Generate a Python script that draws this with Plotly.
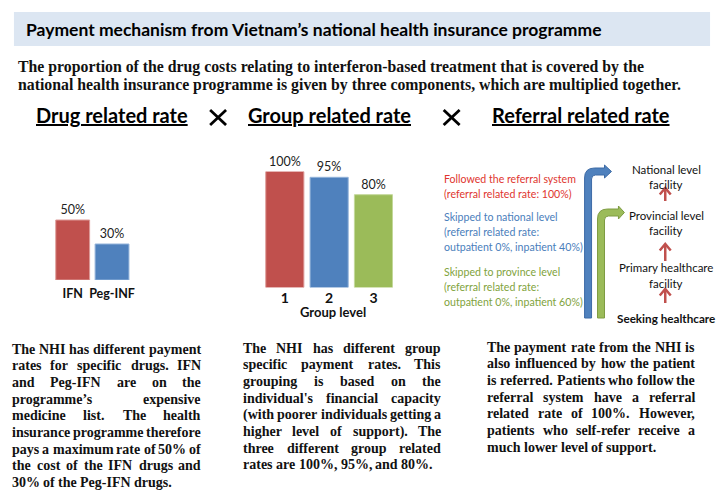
import plotly.graph_objects as go

W, H = 728, 503

# ---------------- data ----------------
title_text = "Payment mechanism from Vietnam\u2019s national health insurance programme"
subtitle_lines = [
    "The proportion of the drug costs relating to interferon-based treatment that is covered by the",
    "national health insurance programme is given by three components, which are multiplied together.",
]
section_titles = ["Drug related rate", "Group related rate", "Referral related rate"]

drug_categories = ["IFN", "Peg-INF"]
drug_rates = [50, 30]
drug_labels = ["50%", "30%"]

group_levels = ["1", "2", "3"]
group_rates = [100, 95, 80]
group_labels = ["100%", "95%", "80%"]
group_axis_title = "Group level"

referral_red = ["Followed the referral system", "(referral related rate: 100%)"]
referral_blue = ["Skipped to national level", "(referral related rate:", "outpatient 0%, inpatient 40%)"]
referral_green = ["Skipped to province level", "(referral related rate:", "outpatient 0%, inpatient 60%)"]
facility_labels = ["National level", "facility", "Provincial level", "facility",
                   "Primary healthcare", "facility"]
seeking_label = "Seeking healthcare"

para1 = ["The NHI has different payment",
         "rates for specific drugs. IFN",
         "and Peg-IFN are on the",
         "programme\u2019s expensive",
         "medicine list. The health",
         "insurance programme therefore",
         "pays a maximum rate of 50% of",
         "the cost of the IFN drugs and",
         "30% of the Peg-IFN drugs."]
para2 = ["The NHI has different group",
         "specific payment rates. This",
         "grouping is based on the",
         "individual's financial capacity",
         "(with poorer individuals getting a",
         "higher level of support). The",
         "three different group related",
         "rates are 100%, 95%, and 80%."]
para3 = ["The payment rate from the NHI is",
         "also influenced by how the patient",
         "is referred. Patients who follow the",
         "referral system have a referral",
         "related rate of 100%. However,",
         "patients who self-refer receive a",
         "much lower level of support."]

# ---------------- styles ----------------
RED, BLUE, GREEN = "#c0504d", "#4f81bd", "#9bbb59"
SANS = "Lato"
SERIF = "Liberation Serif"


def px(x):
    return x / W


def py(y):
    return 1 - y / H


# Times-Bold advance widths (per 1000 em) for justification
TB = {' ': 250, '!': 333, "'": 278, '\u2019': 333, '(': 333, ')': 333, ',': 250, '-': 333,
      '.': 250, '%': 1000, ':': 333}
for c in "0123456789":
    TB[c] = 500
TB.update(dict(zip("abcdefghijklmnopqrstuvwxyz",
                   [500, 556, 444, 556, 444, 333, 500, 556, 278, 333, 556, 278, 833, 556, 500,
                    556, 556, 444, 389, 333, 556, 500, 722, 500, 500, 444])))
TB.update(dict(zip("ABCDEFGHIJKLMNOPQRSTUVWXYZ",
                   [722, 667, 722, 722, 667, 611, 778, 778, 389, 500, 778, 667, 944, 722, 778,
                    611, 778, 722, 556, 667, 722, 722, 1000, 722, 722, 667])))


def tw(s, size):
    return sum(TB.get(c, 500) for c in s) / 1000.0 * size


annotations = []
shapes = []


def ann(x, y, text, size, color="#000000", family=SANS, weight="normal", xanchor="left", **kw):
    d = dict(x=x, y=y, xref="x3", yref="y3", text=text, showarrow=False,
             xanchor=xanchor, yanchor="middle", borderpad=0, borderwidth=0,
             font=dict(family=family, size=size, color=color, weight=weight))
    d.update(kw)
    annotations.append(d)


def justified(lines, x0, x1, y0, step, size):
    for i, line in enumerate(lines):
        y = y0 + i * step
        words = line.split(" ")
        widths = [tw(w, size) for w in words]
        last = (i == len(lines) - 1)
        if last or len(words) == 1:
            gap = 0.25 * size
        else:
            gap = max((x1 - x0 - sum(widths)) / (len(words) - 1), 0.12 * size)
        x = x0
        for j, (w, wd) in enumerate(zip(words, widths)):
            if (not last) and j == len(words) - 1 and len(words) > 1:
                ann(x1, y, w, size, "#111111", SERIF, "bold", xanchor="right")
            else:
                ann(x, y, w, size, "#111111", SERIF, "bold")
            x += wd + gap


# ---------------- header ----------------
shapes.append(dict(type="rect", xref="x3", yref="y3", x0=14, x1=713, y0=12, y1=46,
                   fillcolor="#dce6f2", line=dict(width=0), layer="below"))
ann(26, 29.5, title_text, 17.5, "#000000", SANS, "bold")
for i, line in enumerate(subtitle_lines):
    ann(18, 66.5 + i * 18, line, 15.8, "#111111", SERIF, "bold")

# section titles
sec_x = [112, 331, 583]
for x, t in zip(sec_x, section_titles):
    ann(x, 115, "<u>" + t + "</u>", 20, "#000000", SANS, "bold", xanchor="center")
for cx in (219, 453.5):
    for (a, b) in ((-8, -7.5), (-8, 7.5)):
        shapes.append(dict(type="line", xref="x3", yref="y3", x0=cx + a, y0=117.5 + b,
                           x1=cx - a, y1=117.5 - b, line=dict(color="#000000", width=2.8)))

# ---------------- bars ----------------
fig = go.Figure()
fig.add_trace(go.Bar(
    x=drug_categories, y=drug_rates, text=drug_labels, textposition="outside",
    marker=dict(color=[RED, BLUE], line=dict(color=["#dd9a98", "#93b3da"], width=1)),
    textfont=dict(family=SANS, size=12.5, color="#222222"),
    cliponaxis=False, xaxis="x", yaxis="y", hoverinfo="skip", showlegend=False))
fig.add_trace(go.Bar(
    x=group_levels, y=group_rates, text=group_labels, textposition="outside",
    marker=dict(color=[RED, BLUE, GREEN], line=dict(color=["#dd9a98", "#93b3da", "#c3d89a"], width=1)),
    textfont=dict(family=SANS, size=12.5, color="#222222"),
    cliponaxis=False, xaxis="x2", yaxis="y2", hoverinfo="skip", showlegend=False))
ann(334, 312, group_axis_title, 13, "#111111", SANS, "bold", xanchor="center")

# ---------------- referral diagram ----------------
for lines, col, y0 in ((referral_red, "#e0352e", 178.5), (referral_blue, "#4a7ebb", 217),
                       (referral_green, "#7fa33c", 272)):
    for i, t in enumerate(lines):
        ann(446, y0 + i * 15, t, 10.6, col, SANS)

fac_y = [169, 184, 215, 230, 267, 283]
for t, y in zip(facility_labels, fac_y):
    ann(669, y, t, 11.5, "#111111", SANS, xanchor="center")
ann(669, 318, seeking_label, 11.7, "#111111", SANS, "bold", xanchor="center")

# small red upward arrows between facility levels
for tip, tail in ((188, 201), (244, 261), (289, 303)):
    shapes.append(dict(type="line", xref="x3", yref="y3", x0=668, x1=668, y0=tail, y1=tip + 1.5,
                       line=dict(color=RED, width=2.5)))
    shapes.append(dict(type="path", xref="x3", yref="y3",
                       path=f"M 662.5,{tip + 6.5} L 668,{tip} L 673.5,{tip + 6.5}",
                       line=dict(color=RED, width=2.5)))

blue_path = ("M 587,318 L 587,178 Q 587,168 597,168 L 607,168 L 607,165 L 614,171.5 "
             "L 607,178 L 607,175 L 598,175 Q 594,175 594,179 L 594,318 Z")
green_path = ("M 600,318 L 600,219 Q 600,209 610,209 L 621,209 L 621,206 L 627,212.5 "
              "L 621,219 L 621,216 L 611,216 Q 607,216 607,220 L 607,318 Z")
shapes.append(dict(type="path", xref="x3", yref="y3", path=blue_path,
                   fillcolor=BLUE, line=dict(color="#3d6ba6", width=1)))
shapes.append(dict(type="path", xref="x3", yref="y3", path=green_path,
                   fillcolor=GREEN, line=dict(color="#7e9c42", width=1)))

# ---------------- paragraphs ----------------
justified(para1, 12, 202, 349, 16.7, 14)
justified(para2, 244, 443, 348, 16.7, 14)
justified(para3, 489, 698, 347, 16.7, 14)

# ---------------- layout ----------------
fig.update_layout(
    width=W, height=H, margin=dict(l=0, r=0, t=0, b=0),
    paper_bgcolor="white", plot_bgcolor="rgba(0,0,0,0)",
    bargap=0.14, showlegend=False,
    xaxis=dict(domain=[px(53.25), px(132.25)], showgrid=False, zeroline=False, showline=False,
               ticks="", tickfont=dict(family=SANS, size=12.5, color="#111111", weight="bold"),
               ticklabelstandoff=4, fixedrange=True),
    yaxis=dict(domain=[py(280), py(160)], range=[0, 100], visible=False, fixedrange=True),
    xaxis2=dict(domain=[px(263.75), px(397.25)], showgrid=False, zeroline=False, showline=False,
                ticks="", tickfont=dict(family=SANS, size=14, color="#111111", weight="bold"),
                ticklabelstandoff=0, anchor="y2", fixedrange=True),
    yaxis2=dict(domain=[py(287.5), py(171.5)], range=[0, 100], visible=False, anchor="x2",
                fixedrange=True),
    xaxis3=dict(domain=[0, 1], range=[0, W], visible=False, anchor="y3", fixedrange=True),
    yaxis3=dict(domain=[0, 1], range=[H, 0], visible=False, anchor="x3", fixedrange=True),
    annotations=annotations, shapes=shapes,
)

fig.write_html("out.html", config={"displayModeBar": False},
               post_script="document.body.style.margin='0px';")
